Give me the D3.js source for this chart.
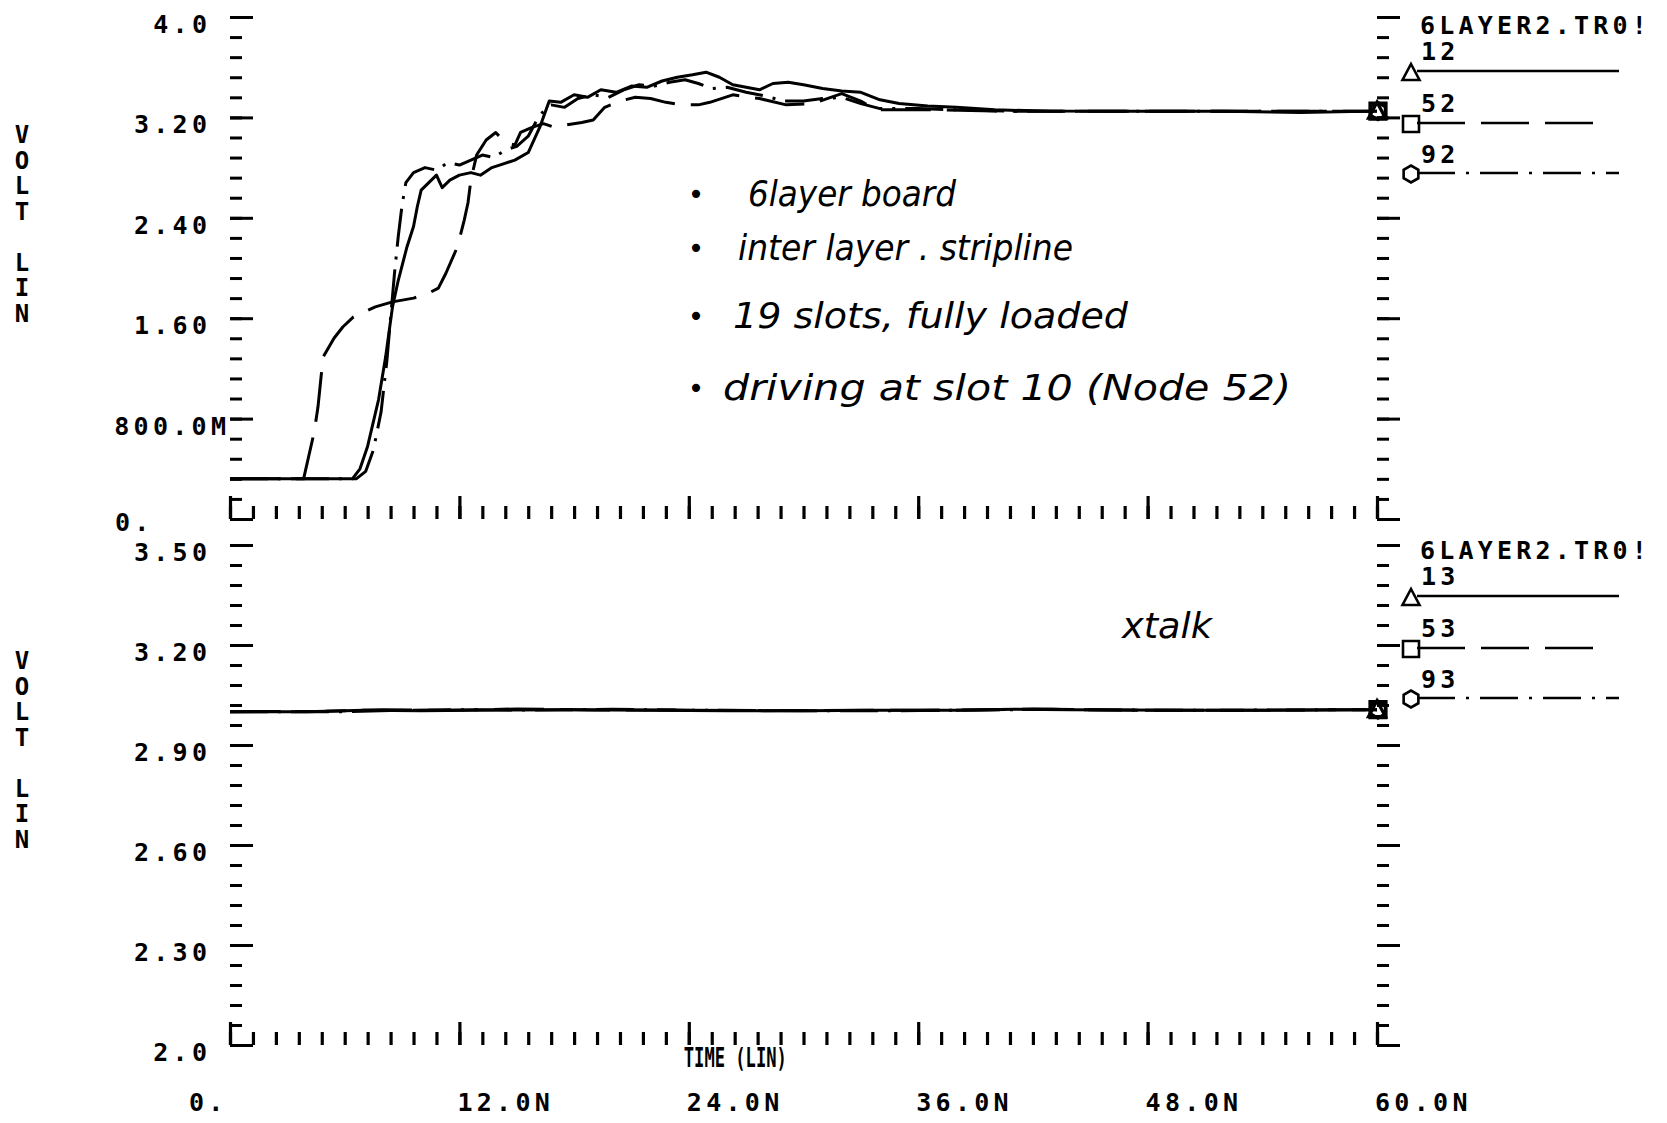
<!DOCTYPE html>
<html>
<head>
<meta charset="utf-8">
<script src="https://cdn.jsdelivr.net/npm/d3@7"></script>
<style>
  html, body { margin: 0; padding: 0; background: #ffffff; }
  svg { display: block; }
</style>
</head>
<body>
<svg id="chart" width="1667" height="1123"></svg>
<script>
// ---------------- DATA ----------------
const timeTicksNs = [0, 12, 24, 36, 48, 60];
const timeTickLabels = ["0.", "12.0N", "24.0N", "36.0N", "48.0N", "60.0N"];
const timeAxisTitle = "TIME (LIN)";

const topYTicks = [0, 0.8, 1.6, 2.4, 3.2, 4.0];
const topYTickLabels = ["0.", "800.0M", "1.60", "2.40", "3.20", "4.0"];
const bottomYTicks = [2.0, 2.3, 2.6, 2.9, 3.2, 3.5];
const bottomYTickLabels = ["2.0", "2.30", "2.60", "2.90", "3.20", "3.50"];
const yAxisTitle = "VOLT  LIN";

const fileLabel = "6LAYER2.TR0!";
const topSeriesNames = ["12", "52", "92"];
const bottomSeriesNames = ["13", "53", "93"];

// node 12 (solid, triangle)
const t12 = [0, 6.4, 6.8, 7.2, 7.77, 8.14, 8.5, 8.8, 9.26, 9.6, 9.8, 10.0, 10.4, 10.8, 11.1, 11.5, 12.0, 12.6, 13.1, 13.7, 14.3, 14.9, 15.6, 16.2, 16.7, 17.3, 18.0, 18.7, 19.4, 20.2, 21.0, 21.8, 22.6, 23.4, 24.2, 24.9, 25.6, 26.3, 27.0, 27.7, 28.4, 29.2, 30.0, 31.0, 32.0, 33.0, 34.0, 35.0, 36.5, 38, 40, 43, 47, 52, 56, 60];
const v12 = [0.32, 0.32, 0.40, 0.58, 0.95, 1.29, 1.69, 1.90, 2.17, 2.33, 2.49, 2.62, 2.68, 2.74, 2.64, 2.70, 2.74, 2.76, 2.74, 2.80, 2.83, 2.86, 2.92, 3.12, 3.33, 3.32, 3.38, 3.36, 3.42, 3.40, 3.45, 3.44, 3.49, 3.52, 3.54, 3.56, 3.52, 3.46, 3.44, 3.42, 3.47, 3.48, 3.46, 3.43, 3.41, 3.40, 3.34, 3.31, 3.29, 3.28, 3.26, 3.25, 3.25, 3.25, 3.24, 3.25];
// node 52 (dashed, square) - driver
const t52 = [0, 3.85, 4.4, 4.6, 4.87, 5.44, 5.9, 6.46, 7.6, 8.5, 9.6, 10.4, 10.9, 11.3, 11.9, 12.25, 12.45, 12.6, 12.9, 13.4, 13.9, 14.4, 14.9, 15.2, 15.8, 16.4, 17.0, 17.6, 18.4, 19.0, 19.6, 20.4, 21.2, 22.0, 22.8, 23.6, 24.5, 25.1, 26.3, 27.7, 29.1, 30.5, 32.0, 33.0, 33.8, 35, 37, 40, 45, 50, 55, 60];
const v52 = [0.32, 0.32, 0.69, 0.89, 1.29, 1.44, 1.53, 1.61, 1.69, 1.73, 1.76, 1.80, 1.84, 1.96, 2.17, 2.38, 2.52, 2.70, 2.90, 3.02, 3.08, 3.00, 2.98, 3.08, 3.12, 3.15, 3.12, 3.14, 3.16, 3.18, 3.28, 3.33, 3.36, 3.35, 3.32, 3.30, 3.30, 3.32, 3.38, 3.35, 3.30, 3.31, 3.39, 3.33, 3.26, 3.26, 3.26, 3.25, 3.25, 3.25, 3.25, 3.25];
// node 92 (dash-dot, circle)
const t92 = [0, 6.6, 7.1, 7.5, 7.9, 8.2, 8.4, 8.6, 8.8, 9.0, 9.2, 9.6, 10.2, 10.8, 11.4, 12.0, 12.6, 13.2, 13.8, 14.4, 15.0, 15.6, 16.2, 16.8, 17.5, 18.2, 19.0, 19.8, 20.6, 21.4, 22.2, 23.0, 23.8, 24.5, 25.2, 26.0, 27.0, 28.0, 29.0, 30.0, 31.0, 32.0, 33.0, 34.0, 36, 38, 41, 45, 50, 55, 60];
const v92 = [0.32, 0.32, 0.38, 0.55, 0.85, 1.25, 1.60, 1.95, 2.25, 2.50, 2.68, 2.76, 2.80, 2.78, 2.84, 2.82, 2.86, 2.90, 2.88, 2.94, 2.97, 3.05, 3.22, 3.30, 3.28, 3.35, 3.38, 3.36, 3.42, 3.46, 3.45, 3.48, 3.50, 3.47, 3.43, 3.44, 3.40, 3.37, 3.33, 3.33, 3.35, 3.36, 3.31, 3.27, 3.27, 3.26, 3.25, 3.25, 3.25, 3.25, 3.25];

// crosstalk nodes 13 / 53 / 93
const t13 = [0, 4, 7, 10, 14, 18, 22, 26, 30, 34, 38, 41, 44, 47, 50, 54, 57, 60];
const v13 = [3.000, 3.000, 3.004, 3.003, 3.005, 3.006, 3.004, 3.003, 3.003, 3.004, 3.004, 3.007, 3.006, 3.005, 3.004, 3.004, 3.005, 3.006];
const t53 = [0, 5, 8, 11, 15, 19, 23, 28, 33, 38, 42, 45, 48, 52, 56, 60];
const v53 = [3.000, 3.001, 3.006, 3.004, 3.008, 3.005, 3.005, 3.003, 3.004, 3.004, 3.008, 3.006, 3.004, 3.004, 3.005, 3.006];
const t93 = [0, 6, 9, 12, 16, 20, 25, 30, 35, 39, 43, 46, 50, 55, 60];
const v93 = [3.000, 3.000, 3.004, 3.006, 3.005, 3.007, 3.004, 3.003, 3.003, 3.005, 3.007, 3.005, 3.004, 3.005, 3.006];

const notesTop = ["6layer board", "inter layer . stripline", "19 slots, fully loaded", "driving at slot 10 (Node 52)"];
const noteBottom = "xtalk";

// ---------------- LAYOUT ----------------
const svg = d3.select("#chart");
const FONT = "'DejaVu Sans Mono', 'Liberation Mono', monospace";
const HAND = "'DejaVu Sans', 'Noto Sans', sans-serif";
const X0 = 230, X1 = 1377;
const x = d3.scaleLinear().domain([0, 60]).range([X0, X1]);

const styles = [
  { dash: null, marker: "tri" },
  { dash: "50,16", marker: "sq" },
  { dash: "38,10,3,10", marker: "circ" }
];

const panels = [
  {
    y: d3.scaleLinear().domain([0, 4.0]).range([519, 17]),
    minorStep: 0.16, ticks: topYTicks, labels: topYTickLabels,
    series: [[t12, v12], [t52, v52], [t92, v92]], names: topSeriesNames,
    legendDy: 0, titleY: 121
  },
  {
    y: d3.scaleLinear().domain([2.0, 3.5]).range([1045, 545]),
    minorStep: 0.06, ticks: bottomYTicks, labels: bottomYTickLabels,
    series: [[t13, v13], [t53, v53], [t93, v93]], names: bottomSeriesNames,
    legendDy: 525, titleY: 647
  }
];

function markerPath(kind, cx, cy) {
  if (kind === "tri") return `M${cx},${cy - 9}L${cx + 8.5},${cy + 7}L${cx - 8.5},${cy + 7}Z`;
  if (kind === "sq") return `M${cx - 8},${cy - 8}h16v16h-16Z`;
  const r = 8.5, pts = d3.range(6).map(i => [cx + r * Math.cos(Math.PI / 6 + i * Math.PI / 3), cy + r * Math.sin(Math.PI / 6 + i * Math.PI / 3)]);
  return "M" + pts.map(p => p.join(",")).join("L") + "Z";
}

function styleTicks(g, w) {
  g.select(".domain").remove();
  g.selectAll(".tick line").attr("stroke", "#000").attr("stroke-width", w);
  g.selectAll(".tick text").remove();
}

panels.forEach((p, pi) => {
  const y = p.y;
  const [d0] = y.domain();
  const base = y(d0);
  const minorY = d3.range(26).map(i => +(d0 + i * p.minorStep).toFixed(4));
  const minorX = d3.range(51).map(i => +(i * 1.2).toFixed(4));

  [X0, X1].forEach(ax => {
    svg.append("g").attr("transform", `translate(${ax},0)`)
      .call(d3.axisRight(y).tickValues(minorY).tickSize(12).tickFormat(""))
      .call(g => styleTicks(g, 3));
    svg.append("g").attr("transform", `translate(${ax},0)`)
      .call(d3.axisRight(y).tickValues(p.ticks).tickSize(23).tickFormat(""))
      .call(g => styleTicks(g, 3));
  });
  svg.append("g").attr("transform", `translate(0,${base})`)
    .call(d3.axisTop(x).tickValues(minorX).tickSize(13).tickFormat(""))
    .call(g => styleTicks(g, 3.2));
  svg.append("g").attr("transform", `translate(0,${base})`)
    .call(d3.axisTop(x).tickValues(timeTicksNs).tickSize(23).tickFormat(""))
    .call(g => styleTicks(g, 3.2));

  // y tick labels
  p.ticks.forEach((v, i) => {
    const lab = p.labels[i];
    const t = svg.append("text")
      .attr("font-family", FONT).attr("font-weight", "bold").attr("font-size", 25)
      .attr("letter-spacing", 4.3).attr("fill", "#000")
      .text(lab);
    if (pi === 0 && v === 0) {
      t.attr("x", X0 - 115).attr("y", y(v) + 12).attr("text-anchor", "start");
    } else if (lab.length >= 6) {
      t.attr("x", X0 - 4 + 4.3).attr("y", y(v) + 16).attr("text-anchor", "end");
    } else {
      t.attr("x", X0 - 23 + 4.3).attr("y", y(v) + 16).attr("text-anchor", "end");
    }
  });

  // vertical "VOLT LIN" (one text, stacked upright letters)
  svg.append("text")
    .attr("x", 22).attr("y", p.titleY)
    .attr("font-family", FONT).attr("font-weight", "bold").attr("font-size", 24)
    .attr("letter-spacing", -2.5)
    .attr("style", "writing-mode: vertical-rl; text-orientation: upright;")
    .attr("fill", "#000").text(yAxisTitle);

  // series
  const line = d3.line().x(d => x(d[0])).y(d => y(d[1]));
  p.series.forEach((s, si) => {
    const pts = d3.zip(s[0], s[1]);
    svg.append("path").datum(pts)
      .attr("d", line)
      .attr("fill", "none").attr("stroke", "#000").attr("stroke-width", 3)
      .attr("stroke-linejoin", "round").attr("stroke-linecap", "butt")
      .attr("stroke-dasharray", styles[si].dash);
    const last = pts[pts.length - 1];
    svg.append("path")
      .attr("d", markerPath(styles[si].marker, x(last[0]) + (si === 0 ? 0 : 1), y(last[1])))
      .attr("fill", "none").attr("stroke", "#000").attr("stroke-width", 3.2);
  });

  // legend
  const ly = p.legendDy;
  const lx = 1420;
  svg.append("text").attr("x", lx).attr("y", ly + 34)
    .attr("font-family", FONT).attr("font-weight", "bold").attr("font-size", 25)
    .attr("letter-spacing", 4.2).attr("fill", "#000").text(fileLabel);
  const rows = [{ lab: 60, line: 71, end: 1619 }, { lab: 112, line: 123, end: 1608 }, { lab: 163, line: 173, end: 1619 }];
  rows.forEach((r, si) => {
    svg.append("text").attr("x", lx + 1).attr("y", ly + r.lab)
      .attr("font-family", FONT).attr("font-weight", "bold").attr("font-size", 25)
      .attr("letter-spacing", 4.2).attr("fill", "#000").text(p.names[si]);
    svg.append("line").attr("x1", lx - 3).attr("x2", r.end)
      .attr("y1", ly + r.line).attr("y2", ly + r.line)
      .attr("stroke", "#000").attr("stroke-width", 2.6)
      .attr("stroke-dasharray", si === 1 ? "48,16" : (si === 2 ? "38,11,3,11" : null));
    svg.append("path").attr("d", markerPath(styles[si].marker, 1411, ly + r.line + (si === 0 ? 2 : 1)))
      .attr("fill", "none").attr("stroke", "#000").attr("stroke-width", 2.6);
  });
});

// x tick labels
timeTicksNs.forEach((t, i) => {
  svg.append("text")
    .attr("x", t === 0 ? x(t) - 41 : x(t) - 2)
    .attr("y", 1111)
    .attr("font-family", FONT).attr("font-weight", "bold").attr("font-size", 25)
    .attr("letter-spacing", 4.3).attr("fill", "#000")
    .text(timeTickLabels[i]);
});
svg.append("text")
  .attr("x", x(24) - 5).attr("y", 1067)
  .attr("font-family", FONT).attr("font-weight", "bold").attr("font-size", 26)
  .attr("textLength", 103).attr("lengthAdjust", "spacingAndGlyphs")
  .attr("fill", "#000")
  .text(timeAxisTitle);

// handwritten annotations
const noteRows = [
  { x: 748, y: 206, w: 208 },
  { x: 738, y: 260, w: 335 },
  { x: 733, y: 328, w: 395 },
  { x: 723, y: 400, w: 568 }
];
notesTop.forEach((n, i) => {
  const r = noteRows[i];
  svg.append("text").attr("x", 696).attr("y", r.y - 2)
    .attr("text-anchor", "middle")
    .attr("font-family", HAND).attr("font-size", 28).attr("fill", "#000").text("•");
  svg.append("text").attr("x", r.x).attr("y", r.y)
    .attr("font-family", HAND).attr("font-style", "italic").attr("font-size", 35)
    .attr("textLength", r.w).attr("lengthAdjust", "spacingAndGlyphs")
    .attr("fill", "#000").text(n);
});
svg.append("text").attr("x", 1122).attr("y", 638)
  .attr("font-family", HAND).attr("font-style", "italic").attr("font-size", 36)
  .attr("textLength", 90).attr("lengthAdjust", "spacingAndGlyphs")
  .attr("fill", "#000").text(noteBottom);
</script>
</body>
</html>
